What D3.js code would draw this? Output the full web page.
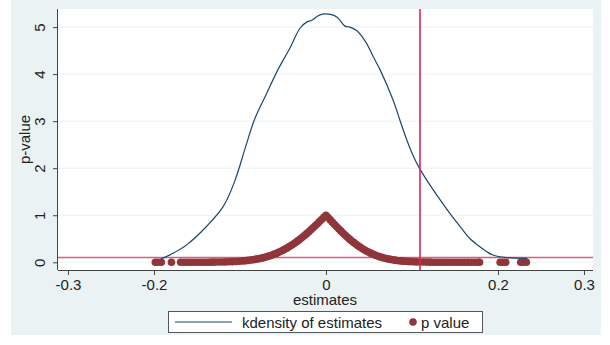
<!DOCTYPE html>
<html><head><meta charset="utf-8">
<script src="https://cdn.jsdelivr.net/npm/d3@7"></script>
<style>body{margin:0;background:#fff;}svg{display:block;font-family:"Liberation Sans",Arial,sans-serif;}</style>
</head><body><svg id="c" width="610" height="345"></svg>
<script>
// ---- data ----
const xTicks = [-0.3, -0.2, 0, 0.2, 0.3];
const xTickLabels = ["-0.3", "-0.2", "0", "0.2", "0.3"];
const yTicks = [0, 1, 2, 3, 4, 5];
const xLineValue = 0.1093;
const yLineValue = 0.1;

const densX = [-0.192,-0.178,-0.162,-0.139,-0.119,-0.106,-0.094,-0.083,-0.069,-0.056,-0.042,-0.030,-0.022,-0.017,-0.007,0.005,0.013,0.022,0.028,0.036,0.047,0.055,0.063,0.078,0.086,0.094,0.102,0.110,0.121,0.133,0.144,0.156,0.167,0.179,0.187,0.194,0.210,0.234];
const densY = [0.07,0.19,0.37,0.76,1.20,1.73,2.42,3.04,3.59,4.09,4.55,4.98,5.11,5.14,5.26,5.27,5.21,5.02,5.00,4.92,4.66,4.37,4.09,3.45,3.02,2.60,2.24,1.96,1.64,1.32,1.04,0.76,0.51,0.33,0.225,0.155,0.10,0.085];

const estimates = [
 -0.1984,-0.1955,-0.1915,-0.1797,
 -0.169,-0.165,-0.161,-0.157,-0.153,-0.149,-0.145,-0.141,-0.137,-0.133,-0.129,-0.125,-0.121,-0.117,-0.113,-0.109,-0.105,-0.101,
 -0.0975,-0.095,-0.0925,-0.09,-0.0875,-0.085,-0.0825,-0.08,-0.0775,-0.075,-0.0725,-0.07,-0.0675,-0.065,-0.0625,-0.06,-0.0575,-0.055,-0.0525,-0.05,
 -0.0475,-0.045,-0.0425,-0.04,-0.0375,-0.035,-0.0325,-0.03,-0.0275,-0.025,-0.0225,-0.02,-0.0175,-0.015,-0.0125,-0.01,-0.0075,-0.005,-0.0025,0,
 0.0025,0.005,0.0075,0.01,0.0125,0.015,0.0175,0.02,0.0225,0.025,0.0275,0.03,0.0325,0.035,0.0375,0.04,0.0425,0.045,0.0475,0.05,
 0.0525,0.055,0.0575,0.06,0.0625,0.065,0.0675,0.07,0.0725,0.075,0.0775,0.08,0.0825,0.085,0.0875,0.09,0.0925,0.095,0.0975,
 0.101,0.105,0.109,0.113,0.117,0.121,0.125,0.129,0.133,0.137,0.141,0.145,0.149,0.153,0.157,0.161,0.165,0.169,0.173,0.177,0.1786,
 0.2025,0.2055,0.209,0.2265,0.2295,0.233];
const pvalues = [
 0,0,0,0,
 0,0,0,0,0,0,0.001,0.0014,0.0018,0.0025,0.0034,0.0045,0.006,0.008,0.010,0.013,0.017,0.021,
 0.027,0.031,0.036,0.041,0.047,0.053,0.061,0.069,0.078,0.088,0.099,0.112,0.125,0.140,0.156,0.173,0.191,0.211,0.233,0.256,
 0.280,0.306,0.334,0.363,0.394,0.427,0.460,0.495,0.532,0.570,0.609,0.649,0.691,0.733,0.776,0.820,0.865,0.909,0.955,1.0,
 0.950,0.901,0.851,0.803,0.755,0.708,0.662,0.617,0.574,0.532,0.492,0.453,0.417,0.382,0.348,0.317,0.288,0.261,0.235,0.211,
 0.189,0.169,0.151,0.134,0.118,0.104,0.092,0.080,0.070,0.061,0.053,0.0455,0.039,0.034,0.029,0.024,0.021,0.018,0.015,
 0.012,0.0087,0.0064,0.0047,0.0034,0.0025,0.0018,0.0013,0.0009,0,0,0,0,0,0,0,0,0,0,0,0,
 0,0,0,0,0,0];

// ---- layout ----
const svg = d3.select("#c");
const L = 58, R = 593, T = 9, B = 270;
const x = d3.scaleLinear().domain([-0.3116, 0.3105]).range([L, R]);
const y = d3.scaleLinear().domain([-0.164, 5.384]).range([B, T]);

const navy = "#1a476f", maroon = "#90353b", red = "#e3234f", pink = "#e05a7c", axisCol = "#444";
const FS = 15;

svg.append("rect").attr("x", 11).attr("y", 0).attr("width", 590).attr("height", 335).attr("fill", "#eaf2f3");
svg.append("rect").attr("x", L).attr("y", T).attr("width", R - L).attr("height", B - T).attr("fill", "#fff");

// grid
svg.append("g").selectAll("line").data(yTicks).join("line")
  .attr("x1", L).attr("x2", R).attr("y1", d => y(d)).attr("y2", d => y(d))
  .attr("stroke", "#eaf2f3").attr("stroke-width", 1);

// horizontal reference line
svg.append("line").attr("x1", L).attr("x2", R).attr("y1", y(yLineValue)).attr("y2", y(yLineValue))
  .attr("stroke", pink).attr("stroke-width", 1.5);

// p-value dots
svg.append("g").selectAll("circle").data(estimates.map((e, i) => [e, pvalues[i]])).join("circle")
  .attr("cx", d => x(d[0])).attr("cy", d => y(d[1])).attr("r", 3.8).attr("fill", maroon);

// density curve
const line = d3.line().x(d => x(d[0])).y(d => y(d[1])).curve(d3.curveCatmullRom.alpha(0.5));
svg.append("path").datum(densX.map((v, i) => [v, densY[i]])).attr("d", line)
  .attr("fill", "none").attr("stroke", navy).attr("stroke-width", 1.2);

// vertical reference line
svg.append("line").attr("x1", x(xLineValue)).attr("x2", x(xLineValue)).attr("y1", T).attr("y2", B)
  .attr("stroke", red).attr("stroke-width", 1.6);

// axes
const xAxis = d3.axisBottom(x).tickValues(xTicks).tickFormat((d, i) => xTickLabels[i]).tickSize(5).tickPadding(4);
const gx = svg.append("g").attr("transform", `translate(0,${B})`).call(xAxis);
gx.select(".domain").attr("d", `M${L},0.5H${R}`).attr("stroke", axisCol);
gx.selectAll(".tick line").attr("stroke", axisCol);
gx.selectAll("text").attr("font-size", FS).attr("fill", "#222").attr("font-family", "Liberation Sans, Arial, sans-serif");

const yAxis = d3.axisLeft(y).tickValues(yTicks).tickFormat(d3.format("d")).tickSize(5).tickPadding(6);
const gy = svg.append("g").attr("transform", `translate(${L},0)`).call(yAxis);
gy.select(".domain").attr("d", `M-0.5,${T}V${B}`).attr("stroke", axisCol);
gy.selectAll(".tick line").attr("stroke", axisCol);
gy.selectAll("text").attr("font-size", FS).attr("fill", "#222").attr("font-family", "Liberation Sans, Arial, sans-serif")
  .attr("transform", "rotate(-90)").attr("x", 0).attr("y", -13).attr("dy", 0).attr("text-anchor", "middle");

// axis titles
svg.append("text").attr("x", (L + R) / 2 - 0.5).attr("y", 305).attr("text-anchor", "middle")
  .attr("font-size", FS).attr("fill", "#222").text("estimates");
svg.append("text").attr("transform", `translate(30,${(T + B) / 2}) rotate(-90)`).attr("text-anchor", "middle")
  .attr("font-size", FS).attr("fill", "#222").text("p-value");

// legend
const lg = svg.append("g");
lg.append("rect").attr("x", 168.5).attr("y", 311.5).attr("width", 314).attr("height", 21)
  .attr("fill", "#fff").attr("stroke", "#555").attr("stroke-width", 1);
lg.append("line").attr("x1", 175).attr("x2", 232).attr("y1", 322).attr("y2", 322).attr("stroke", navy).attr("stroke-width", 1.2);
lg.append("text").attr("x", 242).attr("y", 327.5).attr("font-size", FS).attr("fill", "#222").text("kdensity of estimates");
lg.append("circle").attr("cx", 413).attr("cy", 322).attr("r", 3.8).attr("fill", maroon);
lg.append("text").attr("x", 421).attr("y", 327.5).attr("font-size", FS).attr("fill", "#222").text("p value");
</script></body></html>
